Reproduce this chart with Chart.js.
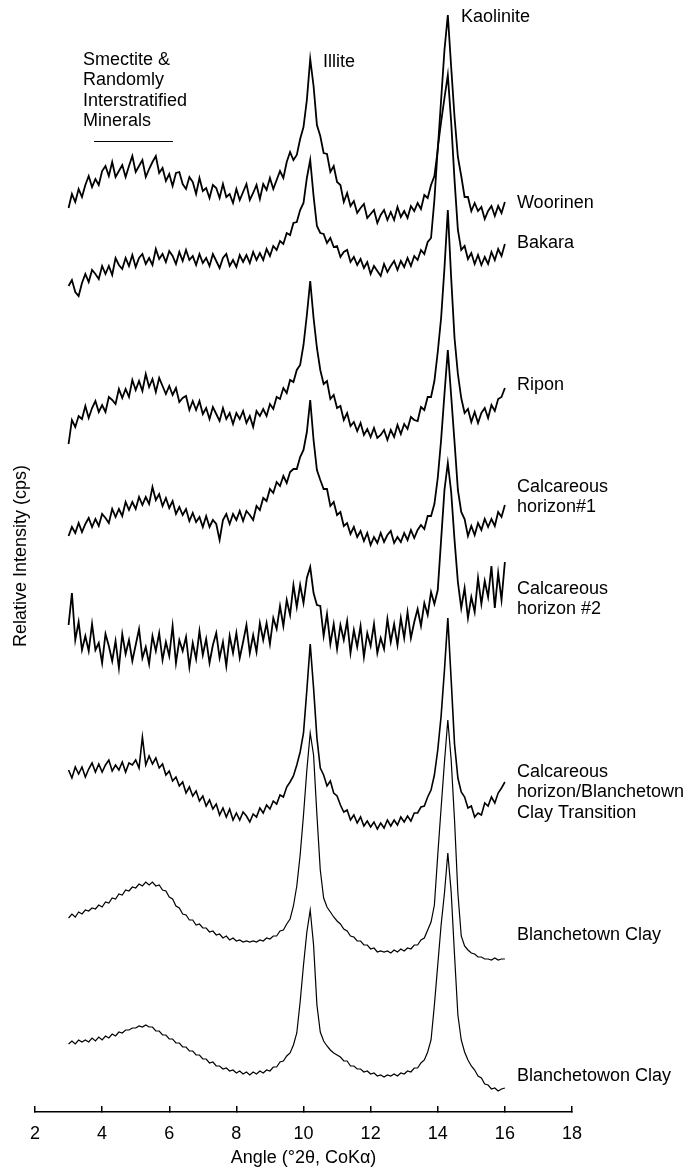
<!DOCTYPE html>
<html>
<head>
<meta charset="utf-8">
<script src="https://cdn.jsdelivr.net/npm/chart.js@4.4.1/dist/chart.umd.min.js"></script>
<style>
  html, body { margin: 0; padding: 0; background: #fff; }
</style>
</head>
<body>
<canvas id="xrd" width="688" height="1169"></canvas>
<script>
// Angle (°2θ, CoKα), shared by every pattern
const angles = [
  3.0, 3.1, 3.2, 3.3, 3.4, 3.5, 3.6, 3.7, 3.8, 3.9,
  4.0, 4.1, 4.2, 4.3, 4.4, 4.5, 4.6, 4.7, 4.8, 4.9,
  5.0, 5.1, 5.2, 5.3, 5.4, 5.5, 5.6, 5.7, 5.8, 5.9,
  6.0, 6.1, 6.2, 6.3, 6.4, 6.5, 6.6, 6.7, 6.8, 6.9,
  7.0, 7.1, 7.2, 7.3, 7.4, 7.5, 7.6, 7.7, 7.8, 7.9,
  8.0, 8.1, 8.2, 8.3, 8.4, 8.5, 8.6, 8.7, 8.8, 8.9,
  9.0, 9.1, 9.2, 9.3, 9.4, 9.5, 9.6, 9.7, 9.8, 9.9,
  10.0, 10.1, 10.2, 10.3, 10.4, 10.5, 10.6, 10.7, 10.8, 10.9,
  11.0, 11.1, 11.2, 11.3, 11.4, 11.5, 11.6, 11.7, 11.8, 11.9,
  12.0, 12.1, 12.2, 12.3, 12.4, 12.5, 12.6, 12.7, 12.8, 12.9,
  13.0, 13.1, 13.2, 13.3, 13.4, 13.5, 13.6, 13.7, 13.8, 13.9,
  14.0, 14.1, 14.2, 14.3, 14.4, 14.5, 14.6, 14.7, 14.8, 14.9,
  15.0, 15.1, 15.2, 15.3, 15.4, 15.5, 15.6, 15.7, 15.8, 15.9,
  16.0
];

// Relative intensities, each above its own baseline
const woorinen = [
  22, 36, 28, 41, 33, 45, 54, 43, 51, 45,
  59, 64, 54, 68, 53, 59, 65, 53, 64, 74,
  58, 64, 70, 53, 61, 68, 74, 57, 62, 49,
  56, 44, 57, 58, 46, 41, 53, 48, 36, 52,
  39, 42, 32, 45, 42, 32, 46, 33, 36, 27,
  41, 30, 38, 46, 30, 37, 45, 31, 46, 40,
  52, 41, 50, 59, 52, 68, 78, 70, 75, 91,
  103, 130, 171, 144, 105, 94, 77, 76, 58, 64,
  48, 45, 28, 37, 24, 29, 17, 22, 26, 12,
  16, 20, 7, 15, 20, 10, 18, 10, 23, 13,
  19, 12, 24, 19, 27, 21, 35, 32, 45, 54,
  80, 130, 180, 215, 163, 113, 73, 54, 33, 33,
  19, 27, 19, 23, 11, 19, 24, 14, 24, 17,
  28
];
const bakara = [
  14, 20, 8, 4, 17, 26, 18, 30, 26, 21,
  34, 26, 34, 25, 42, 35, 31, 42, 34, 45,
  33, 42, 46, 36, 42, 35, 51, 41, 46, 38,
  49, 44, 36, 48, 39, 50, 40, 44, 35, 46,
  37, 42, 34, 46, 39, 32, 42, 46, 34, 40,
  33, 45, 38, 45, 37, 48, 40, 47, 40, 51,
  44, 54, 50, 59, 56, 67, 65, 77, 78, 90,
  97, 122, 140, 104, 74, 67, 66, 57, 62, 53,
  54, 43, 48, 50, 38, 43, 35, 41, 32, 38,
  26, 34, 29, 24, 36, 28, 34, 39, 30, 39,
  33, 42, 34, 44, 40, 50, 46, 58, 62, 100,
  152, 178, 202, 225, 178, 120, 70, 50, 54, 41,
  47, 36, 45, 35, 43, 36, 48, 40, 51, 44,
  56
];
const ripon = [
  6, 30, 23, 34, 31, 44, 32, 42, 49, 38,
  45, 38, 53, 50, 46, 61, 52, 61, 53, 70,
  60, 69, 59, 76, 63, 71, 58, 72, 64, 56,
  64, 55, 62, 48, 52, 54, 40, 49, 40, 49,
  36, 42, 31, 43, 36, 29, 42, 31, 37, 26,
  37, 31, 39, 27, 34, 23, 39, 34, 41, 34,
  46, 41, 53, 51, 62, 57, 70, 68, 80, 85,
  105, 135, 169, 132, 102, 80, 66, 69, 51, 55,
  42, 44, 30, 37, 24, 28, 19, 27, 15, 21,
  13, 22, 12, 15, 20, 10, 20, 13, 25, 16,
  26, 21, 33, 30, 29, 43, 40, 53, 53, 69,
  98, 132, 182, 240, 172, 112, 76, 52, 37, 41,
  28, 38, 27, 37, 42, 32, 45, 39, 51, 53,
  62
];
const calcareous1 = [
  14, 23, 17, 27, 18, 26, 32, 23, 31, 24,
  36, 32, 27, 41, 33, 41, 34, 48, 40, 48,
  41, 53, 45, 53, 46, 63, 50, 56, 44, 52,
  42, 49, 36, 43, 35, 41, 29, 37, 28, 33,
  23, 34, 23, 30, 26, 10, 30, 36, 26, 36,
  30, 39, 29, 39, 35, 30, 44, 40, 52, 49,
  61, 57, 68, 64, 74, 67, 78, 81, 81, 93,
  100, 118, 150, 110, 80, 70, 61, 61, 44, 48,
  35, 38, 24, 27, 16, 23, 13, 19, 9, 17,
  5, 13, 7, 17, 8, 15, 19, 7, 13, 8,
  17, 10, 20, 12, 20, 25, 21, 34, 34, 46,
  72, 110, 156, 200, 154, 108, 60, 38, 31, 14,
  24, 15, 27, 20, 31, 23, 31, 24, 38, 33,
  45
];
const calcareous2 = [
  45, 77, 30, 48, 20, 34, 19, 46, 20, 27,
  7, 36, 24, 9, 29, 2, 36, 16, 30, 9,
  25, 41, 12, 23, 6, 34, 19, 37, 10, 28,
  14, 44, 7, 30, 19, 33, 3, 27, 11, 39,
  15, 31, 7, 25, 37, 12, 28, 4, 34, 17,
  37, 12, 28, 45, 17, 35, 18, 47, 30, 47,
  26, 52, 41, 64, 44, 70, 55, 85, 63, 85,
  67, 92, 103, 77, 65, 64, 34, 56, 26, 46,
  21, 45, 30, 49, 17, 40, 23, 44, 13, 37,
  24, 46, 17, 32, 21, 51, 28, 46, 25, 52,
  32, 58, 32, 48, 61, 44, 67, 55, 78, 66,
  80, 130, 180, 207, 178, 130, 88, 62, 82, 52,
  73, 58, 92, 66, 89, 73, 104, 62, 97, 70,
  108
];
const transition = [
  60, 52, 63, 56, 63, 53, 61, 67, 58, 66,
  58, 65, 70, 59, 65, 60, 68, 58, 67, 65,
  70, 62, 93, 65, 74, 66, 72, 62, 66, 55,
  59, 49, 53, 44, 48, 37, 43, 34, 39, 29,
  34, 24, 30, 21, 26, 15, 22, 13, 21, 10,
  17, 10, 18, 14, 8, 16, 13, 22, 17, 25,
  21, 29, 26, 35, 33, 43, 48, 54, 65, 78,
  97, 140, 186, 142, 92, 62, 55, 44, 49, 37,
  34, 25, 18, 20, 10, 15, 7, 13, 4, 9,
  3, 8, 1, 7, 2, 10, 4, 10, 5, 13,
  8, 14, 9, 17, 17, 23, 24, 33, 40, 55,
  80, 114, 160, 212, 150, 86, 52, 38, 33, 22,
  24, 13, 17, 15, 27, 24, 33, 27, 37, 42,
  48
];
const blanchetown = [
  42, 46, 43, 48, 46, 50, 49, 52, 51, 55,
  53, 58, 57, 62, 61, 66, 65, 70, 69, 73,
  72, 76, 74, 78, 75, 78, 74, 75, 70, 69,
  63, 61, 54, 52, 46, 45, 40, 40, 35, 36,
  32, 32, 28, 29, 25, 26, 22, 24, 20, 22,
  19, 20, 18, 19, 18, 19, 18, 20, 19, 22,
  21, 24, 24, 29, 30, 36, 41, 54, 74, 105,
  145, 190, 227, 205, 145, 90, 62, 53, 48, 43,
  39, 36, 31, 29, 24, 23, 19, 19, 15, 15,
  11, 12, 8, 9, 8, 9, 7, 10, 8, 11,
  9, 12, 11, 15, 15, 20, 22, 30, 38, 55,
  105, 152, 198, 240, 200, 140, 67, 24, 14, 10,
  7, 6, 3, 3, 1, 1, 0, 2, 0, 1,
  1
];
const blanchetowon = [
  51, 54, 51, 55, 53, 55, 53, 57, 54, 58,
  55, 59, 57, 61, 59, 63, 62, 65, 65, 67,
  67, 69, 68, 70, 68, 68, 64, 64, 60, 60,
  56, 56, 52, 52, 48, 48, 44, 44, 40, 40,
  36, 36, 32, 33, 29, 29, 26, 27, 24, 25,
  22, 24, 21, 23, 20, 23, 21, 24, 22, 25,
  24, 28, 28, 33, 34, 39, 42, 50, 62, 93,
  130, 163, 185, 150, 90, 63, 54, 49, 45, 42,
  40, 38, 34, 34, 29, 29, 26, 26, 23, 24,
  21, 22, 19, 20, 18, 20, 19, 21, 19, 22,
  21, 24, 23, 27, 27, 32, 35, 43, 55, 90,
  130, 170, 202, 242, 203, 140, 80, 55, 43, 35,
  29, 25, 19, 17, 11, 10, 6, 7, 4, 6,
  7
];

const patterns = [woorinen, bakara, ripon, calcareous1, calcareous2, transition, blanchetown, blanchetowon];
// vertical stacking of the patterns
const offsets = [882, 812, 662, 562, 442, 282, 152, 17];
const lineWidths = [1.8, 1.8, 1.8, 1.8, 1.8, 1.6, 1.2, 1.2];

const xTicks = [2, 4, 6, 8, 10, 12, 14, 16, 18];

// text placed on the plot (x in °2θ, y in plot units)
const notes = [
  { lines: ['Smectite &', 'Randomly', 'Interstratified', 'Minerals'], x: 3.43, y: 1052 },
  { lines: ['Illite'], x: 10.58, y: 1050 },
  { lines: ['Kaolinite'], x: 14.69, y: 1095 },
  { lines: ['Woorinen'], x: 16.36, y: 909 },
  { lines: ['Bakara'], x: 16.36, y: 869 },
  { lines: ['Ripon'], x: 16.36, y: 727 },
  { lines: ['Calcareous', 'horizon#1'], x: 16.36, y: 625 },
  { lines: ['Calcareous', 'horizon #2'], x: 16.36, y: 523 },
  { lines: ['Calcareous', 'horizon/Blanchetown', 'Clay Transition'], x: 16.36, y: 340 },
  { lines: ['Blanchetown Clay'], x: 16.36, y: 177 },
  { lines: ['Blanchetowon Clay'], x: 16.36, y: 36 }
];

const FONT = '"Liberation Sans", Arial, Helvetica, sans-serif';
Chart.defaults.font.family = FONT;
Chart.defaults.font.size = 18;
Chart.defaults.color = '#000';

const notesPlugin = {
  id: 'notes',
  afterDraw(chart) {
    const { ctx, scales: { x, y } } = chart;
    ctx.save();
    ctx.fillStyle = '#000';
    ctx.font = '18px ' + FONT;
    ctx.textBaseline = 'middle';
    ctx.textAlign = 'left';
    notes.forEach(n => {
      n.lines.forEach((line, i) => {
        ctx.fillText(line, x.getPixelForValue(n.x), y.getPixelForValue(n.y) + i * 20.3);
      });
    });
    // bar under the smectite label
    ctx.strokeStyle = '#000';
    ctx.lineWidth = 1;
    ctx.beginPath();
    ctx.moveTo(x.getPixelForValue(3.76), y.getPixelForValue(971) + 0.5);
    ctx.lineTo(x.getPixelForValue(6.11), y.getPixelForValue(971) + 0.5);
    ctx.stroke();
    ctx.restore();
  }
};

const ctx = document.getElementById('xrd').getContext('2d');
const xrdChart = new Chart(ctx, {
  type: 'line',
  data: {
    datasets: patterns.map((p, k) => ({
      data: angles.map((a, i) => ({ x: a, y: offsets[k] + p[i] })),
      borderColor: '#000',
      borderWidth: lineWidths[k],
      pointRadius: 0,
      tension: 0,
      fill: false
    }))
  },
  options: {
    responsive: false,
    animation: false,
    devicePixelRatio: 1,
    layout: { padding: { left: 0, right: 116, top: 0, bottom: 0 } },
    plugins: { legend: { display: false }, tooltip: { enabled: false } },
    scales: {
      x: {
        type: 'linear',
        min: 2,
        max: 18,
        afterBuildTicks: s => { s.ticks = xTicks.map(v => ({ value: v })); },
        afterFit: s => { s.height = 57; },
        ticks: { padding: 17, color: '#000', font: { size: 18 } },
        grid: { drawOnChartArea: false, drawTicks: true, tickLength: -6, color: '#000', lineWidth: 1.5 },
        border: { display: true, color: '#000', width: 1.5 },
        title: { display: true, text: 'Angle (°2θ, CoKα)', font: { size: 18 }, padding: { top: 0, bottom: 0 } }
      },
      y: {
        min: 0,
        max: 1112,
        afterFit: s => { s.width = 35; },
        ticks: { display: false },
        grid: { display: false },
        border: { display: false },
        title: { display: true, text: 'Relative Intensity (cps)', font: { size: 18 }, padding: { top: 10, bottom: 0 } }
      }
    }
  },
  plugins: [notesPlugin]
});
</script>
</body>
</html>
